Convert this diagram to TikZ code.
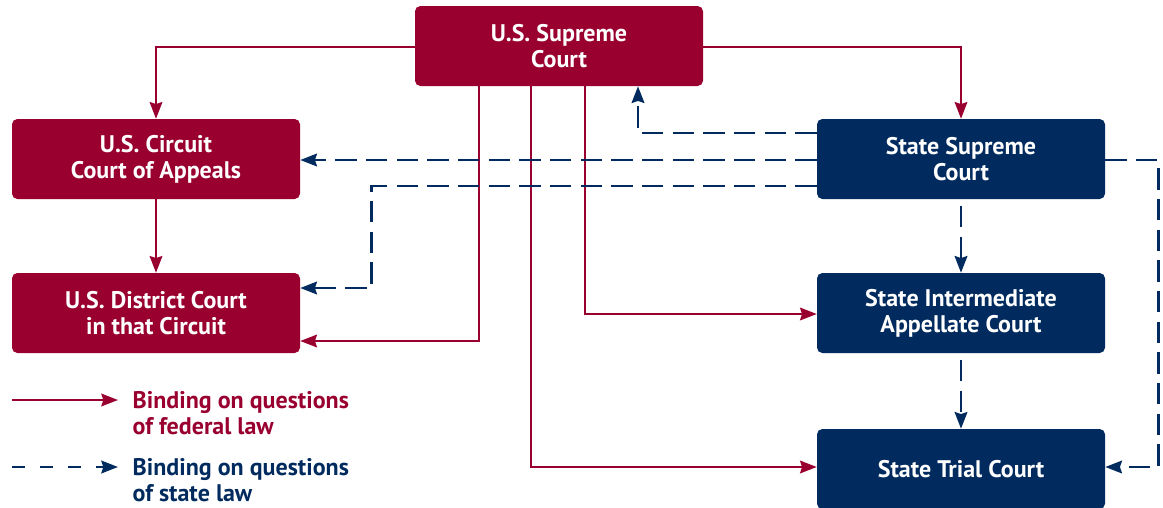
\documentclass[tikz,border=0pt]{standalone}
\usepackage{fontspec}
\setmainfont{PT Sans}
\usetikzlibrary{arrows.meta,calc}
\definecolor{fedred}{HTML}{990030}
\definecolor{statenavy}{HTML}{012B5E}
\begin{document}
\begin{tikzpicture}[x=0.75pt,y=-0.75pt,
  court/.style={rectangle,rounded corners=4pt,minimum width=216pt,minimum height=60pt,
    inner sep=0pt,align=center,text=white,
    font=\fontsize{18}{19.5}\selectfont\bfseries},
  fedcourt/.style={court,fill=fedred},
  statecourt/.style={court,fill=statenavy},
  fed/.style={draw=fedred,line width=1.5pt,-{Stealth[length=12.5pt,width=9.5pt,inset=1.5pt]}},
  stat/.style={draw=statenavy,line width=1.9pt,dash pattern=on 16pt off 7pt,
    -{Stealth[length=12.5pt,width=9.5pt,inset=1.5pt]}},
  legend/.style={anchor=west,align=left,font=\fontsize{18}{19.5}\selectfont\bfseries}]
\clip (0,0) rectangle (1163,507);
\useasboundingbox (0,0) rectangle (1163,507);

% courts
\node[fedcourt] (sup) at (559,46) {U.S. Supreme\\Court};
\node[fedcourt] (circ) at (156,159) {U.S. Circuit\\Court of Appeals};
\node[fedcourt] (dist) at (156,313) {U.S. District Court\\in that Circuit};
\node[statecourt] (ss) at (961,159) {State Supreme\\Court};
\node[statecourt] (inter) at (961,313) {State Intermediate\\Appellate Court};
\node[statecourt] (trial) at (961,469) {State Trial Court};

% federal law links
\draw[fed] ($(sup.west)+(0,1)$) -| (circ.north);
\draw[fed] ($(sup.east)+(0,1)$) -| (ss.north);
\draw[fed] (circ.south) -- (dist.north);
\draw[fed] ($(sup.south)+(-80,0)$) |- ($(dist.east)+(0,28)$);
\draw[fed] ($(sup.south)+(-28,0)$) |- ($(trial.west)+(0,-2)$);
\draw[fed] ($(sup.south)+(26,0)$) |- ($(inter.west)+(0,1)$);

% state law links
\draw[stat] ($(ss.west)+(0,-26)$) -| ($(sup.south)+(79,0)$);
\draw[stat] ($(ss.west)+(0,1)$) -- ($(circ.east)+(0,1)$);
\draw[stat] ($(ss.west)+(0,27)$) -- ++(-445,0) |- ($(dist.east)+(0,-25)$);
\draw[stat] ($(ss.east)+(0,1)$) -- ++(53,0) |- ($(trial.east)+(0,-2)$);
\draw[stat,shorten <=5pt] (ss.south) -- (inter.north);
\draw[stat,shorten <=5pt] (inter.south) -- (trial.north);

% legend
\coordinate (fa) at (12,400);
\coordinate (fb) at (118,400);
\coordinate (sa) at (12,467);
\coordinate (sb) at (118,467);
\draw[fed] (fa) -- (fb);
\draw[stat,dash pattern=on 10pt off 11pt] (sa) -- (sb);
\node[legend,text=fedred] (lfed) at (128,413) {Binding on questions\\of federal law};
\node[legend,text=statenavy] (lstate) at (128,480) {Binding on questions\\of state law};
\end{tikzpicture}
\end{document}
